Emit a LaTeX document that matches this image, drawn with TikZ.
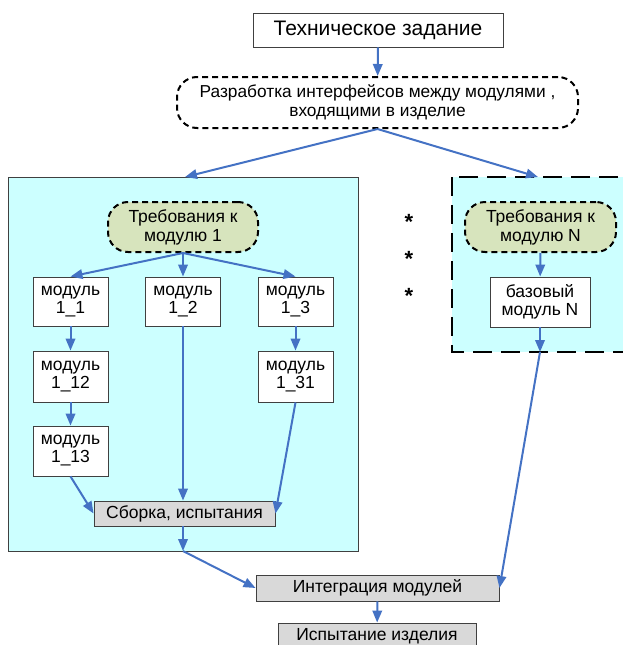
\documentclass[tikz,border=0pt]{standalone}
\usepackage{fontspec}
\setmainfont{Liberation Sans}
\usetikzlibrary{arrows.meta,positioning}
\definecolor{panelfill}{HTML}{CCFFFF}
\definecolor{reqfill}{HTML}{D7E4BD}
\definecolor{stagefill}{HTML}{D9D9D9}
\definecolor{flow}{HTML}{4472C4}
\definecolor{frame}{gray}{0.25}

\begin{document}
\begin{tikzpicture}[x=1pt,y=-1pt,
  box/.style={draw=frame, line width=0.9pt, fill=white, align=center,
              inner sep=0pt, font=\fontsize{17.5}{18}\selectfont},
  stage/.style={box, fill=stagefill},
  req/.style={draw=black, line width=2pt, dash pattern=on 6pt off 4pt,
              rounded corners=20pt, fill=reqfill, align=center, inner sep=0pt,
              font=\fontsize{17.5}{19}\selectfont},
  arr/.style={-{Triangle[length=12pt,width=9.5pt]}, draw=flow, line width=2pt},
]
  \useasboundingbox (0,0) rectangle (623,645);

  % panels
  \filldraw[fill=panelfill, draw=frame, line width=1pt] (8,177) rectangle (358,551);
  \filldraw[fill=panelfill, draw=black, line width=2pt, dash pattern=on 19pt off 9pt]
    (452,177) rectangle (640,352);

  \node[box, minimum width=250pt, minimum height=34pt,
        font=\fontsize{21}{22}\selectfont] (tz) at (378,30) {Техническое задание};
  \node[req, fill=white, minimum width=401pt, minimum height=51pt,
        font=\fontsize{17.3}{19}\selectfont] (razr) at (377.5,102.5)
    {Разработка интерфейсов между модулями ,\\входящими в изделие};

  \coordinate (p1top) at (185,177);
  \coordinate (pNtop) at (538,177);
  \coordinate (p1bot) at (183,551);
  \coordinate (pNbot) at (540,352);

  % first module
  \node[req, minimum width=150pt, minimum height=50pt] (req1) at (183,227)
    {Требования к\\модулю 1};
  \node[box, minimum width=75pt, minimum height=49pt] (m11) at (70.5,301.5) {модуль\\1\_1};
  \node[box, minimum width=75pt, minimum height=49pt] (m12) at (183,301.5) {модуль\\1\_2};
  \node[box, minimum width=75pt, minimum height=49pt] (m13) at (295.5,301.5) {модуль\\1\_3};
  \node[box, minimum width=75pt, minimum height=51pt] (m112) at (70.5,376.5) {модуль\\1\_12};
  \node[box, minimum width=75pt, minimum height=50pt] (m113) at (70.5,451) {модуль\\1\_13};
  \node[box, minimum width=75pt, minimum height=51pt] (m131) at (295.5,376.5) {модуль\\1\_31};
  \node[stage, minimum width=181pt, minimum height=25pt] (sborka) at (184.5,513.5)
    {Сборка, испытания};

  % module N
  \node[req, minimum width=151pt, minimum height=50pt] (reqN) at (540.5,227)
    {Требования к\\модулю N};
  \node[box, minimum width=100pt, minimum height=50pt] (baseN) at (540,302)
    {базовый\\модуль N};

  \foreach \y/\name in {218/st1, 255/st2, 292/st3}
    \node[font=\bfseries\fontsize{22}{22}\selectfont, inner sep=0pt] (\name) at (409,\y+4) {*};

  % integration
  \node[stage, minimum width=243pt, minimum height=26pt] (integ) at (377.5,588)
    {Интеграция модулей};
  \node[stage, minimum width=198pt, minimum height=26pt] (ispyt) at (377,636)
    {Испытание изделия};

  \draw[arr] (tz) -- (razr);
  \draw[arr] (razr.south) -- (p1top);
  \draw[arr] (razr.south) -- (pNtop);
  \draw[arr] (req1.south) -- (m11.north);
  \draw[arr] (req1.south) -- (m12.north);
  \draw[arr] (req1.south) -- (m13.north);
  \draw[arr] (m11) -- (m112);
  \draw[arr] (m112) -- (m113);
  \draw[arr] (m13) -- (m131);
  \draw[arr] (m113.south) -- (sborka.west);
  \draw[arr] (m12.south) -- (m12.south |- sborka.north);
  \draw[arr] (m131.south) -- (sborka.east);
  \draw[arr] (sborka.south -| p1bot) -- (p1bot);
  \draw[arr] (p1bot) -- (integ.west);
  \draw[arr] (reqN) -- (baseN);
  \draw[arr] (baseN.south) -- (pNbot);
  \draw[arr] (pNbot) -- (integ.east);
  \draw[arr] (integ) -- (ispyt);
\end{tikzpicture}
\end{document}
